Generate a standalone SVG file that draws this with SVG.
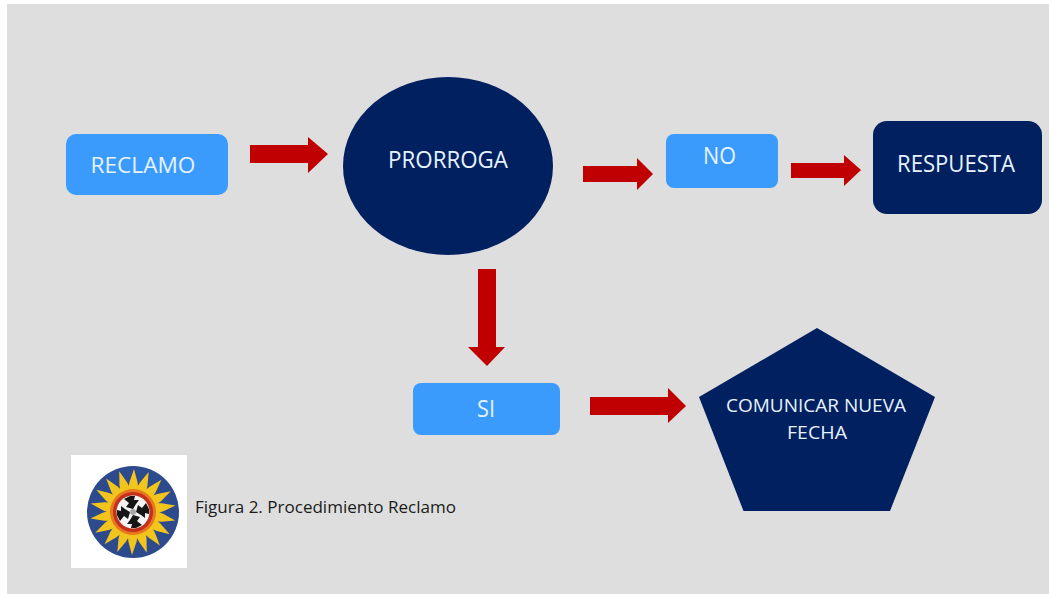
<svg xmlns="http://www.w3.org/2000/svg" xmlns:xlink="http://www.w3.org/1999/xlink" width="1049" height="594" viewBox="0 0 1049 594">
<style>
.light{fill:#3b9bfd}
.dark{fill:#012060}
.arrow{fill:#c00000}
.t{font-family:"Open Sans","Liberation Sans",Arial,sans-serif;fill:#e6f3ff;text-anchor:middle}
</style>
<defs>
<polygon id="ray" points="-6,-18 -3.500,-30 1,-43 4.500,-30 6,-18" fill="#f2c41e"/>
<polygon id="wedge" points="0,-3 -7,-5 -4,-9 -9,-13 -3,-16 2,-16 1,-12 6,-12 3,-8" fill="#161616"/>
</defs>
<rect width="1049" height="594" fill="#fff"/>
<rect x="7" y="4" width="1042" height="590" fill="#dedede"/>
<g id="connectors">
<polygon class="arrow" points="250,145 308,145 308,137 328,154 308,173 308,163 250,163"/>
<polygon class="arrow" points="583,166 637,166 637,158 653,174 637,190 637,182 583,182"/>
<polygon class="arrow" points="791,163 844,163 844,155 861,170 844,186 844,178 791,178"/>
<polygon class="arrow" points="478,269 496,269 496,347 505,347 487,366 468,347 478,347"/>
<polygon class="arrow" points="590,397 668,397 668,388 686,406 668,423 668,415 590,415"/>
</g>
<g id="reclamo">
<rect class="light" x="66" y="134" width="162" height="61" rx="10"/>
<text class="t" x="143" y="173" font-size="22" textLength="105" lengthAdjust="spacingAndGlyphs">RECLAMO</text>
</g>
<g id="prorroga">
<ellipse class="dark" cx="448" cy="166" rx="105" ry="89"/>
<text class="t" x="448" y="168" font-size="23" textLength="120" lengthAdjust="spacingAndGlyphs">PRORROGA</text>
</g>
<g id="no">
<rect class="light" x="666" y="134" width="112" height="54" rx="8"/>
<text class="t" x="719.500" y="164" font-size="23" textLength="33" lengthAdjust="spacingAndGlyphs">NO</text>
</g>
<g id="respuesta">
<rect class="dark" x="873" y="121" width="169" height="93" rx="14"/>
<text class="t" x="956" y="172" font-size="23" textLength="118" lengthAdjust="spacingAndGlyphs">RESPUESTA</text>
</g>
<g id="si">
<rect class="light" x="413" y="383" width="147" height="52" rx="8"/>
<text class="t" x="486" y="417" font-size="23" textLength="18" lengthAdjust="spacingAndGlyphs">SI</text>
</g>
<g id="comunicar">
<polygon class="dark" points="817,328 935,397 890,511 743.500,511 699,397"/>
<text class="t" x="816" y="412" font-size="18" textLength="180" lengthAdjust="spacingAndGlyphs">COMUNICAR NUEVA</text>
<text class="t" x="817" y="439" font-size="18" textLength="60" lengthAdjust="spacingAndGlyphs">FECHA</text>
</g>
<g id="logo">
<rect x="71" y="455" width="116" height="113" fill="#fff"/>
<circle cx="133" cy="512" r="46" fill="#2c4a8c"/>
<g transform="translate(133,512)">
<use xlink:href="#ray"/>
<use xlink:href="#ray" transform="rotate(20)"/>
<use xlink:href="#ray" transform="rotate(40)"/>
<use xlink:href="#ray" transform="rotate(60)"/>
<use xlink:href="#ray" transform="rotate(80)"/>
<use xlink:href="#ray" transform="rotate(100)"/>
<use xlink:href="#ray" transform="rotate(120)"/>
<use xlink:href="#ray" transform="rotate(140)"/>
<use xlink:href="#ray" transform="rotate(160)"/>
<use xlink:href="#ray" transform="rotate(180)"/>
<use xlink:href="#ray" transform="rotate(200)"/>
<use xlink:href="#ray" transform="rotate(220)"/>
<use xlink:href="#ray" transform="rotate(240)"/>
<use xlink:href="#ray" transform="rotate(260)"/>
<use xlink:href="#ray" transform="rotate(280)"/>
<use xlink:href="#ray" transform="rotate(300)"/>
<use xlink:href="#ray" transform="rotate(320)"/>
<use xlink:href="#ray" transform="rotate(340)"/>
<circle r="23" fill="#e8761c"/>
<circle r="20" fill="#c4301e"/>
<circle r="16.500" fill="#f4f4f4"/>
<use xlink:href="#wedge"/>
<use xlink:href="#wedge" transform="rotate(90)"/>
<use xlink:href="#wedge" transform="rotate(180)"/>
<use xlink:href="#wedge" transform="rotate(270)"/>
<circle r="3" fill="#a8a8a8"/>
</g>
</g>
<text id="caption" x="195" y="513" font-size="16.500" fill="#1a1a1a" font-family="'Open Sans','Liberation Sans',Arial,sans-serif" textLength="261" lengthAdjust="spacingAndGlyphs">Figura 2. Procedimiento Reclamo</text>
</svg>
